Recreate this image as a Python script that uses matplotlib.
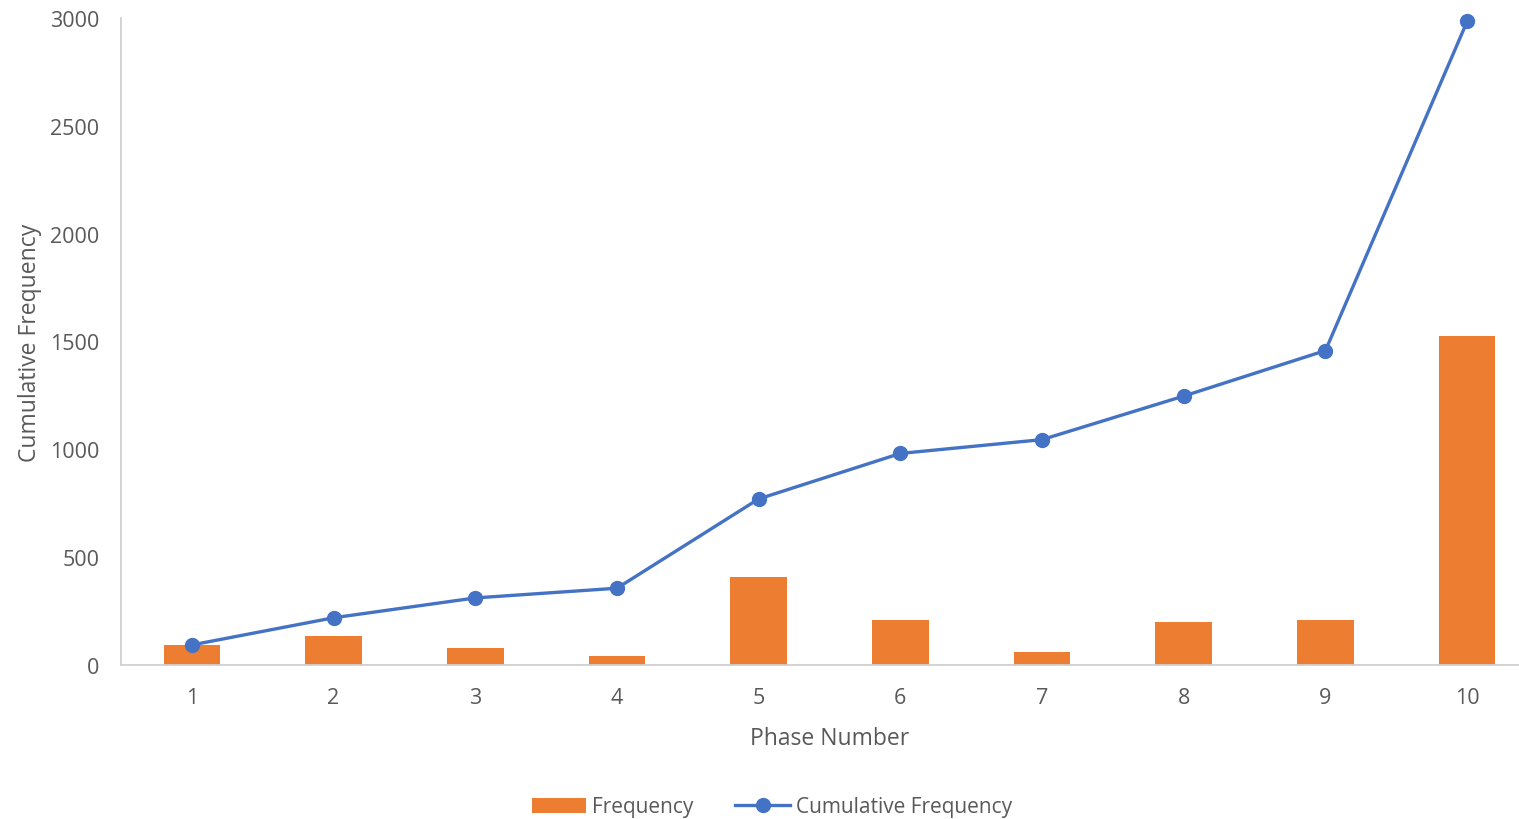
import matplotlib
matplotlib.use("Agg")
import matplotlib.pyplot as plt
from matplotlib.lines import Line2D
from matplotlib.patches import Patch

phases = [1, 2, 3, 4, 5, 6, 7, 8, 9, 10]
frequency = [93, 133, 77, 42, 410, 210, 62, 201, 209, 1525]
cumulative = [93, 219, 311, 356, 770, 981, 1045, 1247, 1458, 2984]
yticks = [0, 500, 1000, 1500, 2000, 2500, 3000]

plt.rcParams['font.family'] = ['Open Sans', 'DejaVu Sans']
TXT = '#595959'
ORANGE = '#ED7D31'
BLUE = '#4472C4'

fig = plt.figure(figsize=(15.19, 8.20), dpi=100)
W, H = 1519, 820
left, right, top, bottom = 121, 1538, 19, 666
ax = fig.add_axes([left / W, 1 - bottom / H, (right - left) / W, (bottom - top) / H])

ax.bar(phases, frequency, width=0.4, color=ORANGE, zorder=2)
ax.plot(phases, cumulative, color=BLUE, lw=2.4, marker='o', markersize=10,
        zorder=3, clip_on=False)

ax.set_xlim(0.5, 10.5)
ax.set_ylim(0, 3000)
ax.set_xticks(phases)
ax.set_xticklabels([str(p) for p in phases])
ax.set_yticks(yticks)
ax.set_yticklabels([str(v) for v in yticks])
ax.tick_params(axis='both', length=0, labelsize=15.5, colors=TXT)
ax.tick_params(axis='y', pad=15.5)
ax.tick_params(axis='x', pad=15.5)

for s in ['top', 'right']:
    ax.spines[s].set_visible(False)
for s in ['left', 'bottom']:
    ax.spines[s].set_color('#D0D0D0')
    ax.spines[s].set_linewidth(1.3)

ax.set_xlabel('Phase Number', fontsize=16.5, color=TXT, labelpad=13)
ax.set_ylabel('Cumulative Frequency', fontsize=16.5, color=TXT, labelpad=6)

handles = [Patch(facecolor=ORANGE, edgecolor='none', label='Frequency'),
           Line2D([0], [0], color=BLUE, lw=2.4, marker='o', markersize=10,
                  label='Cumulative Frequency')]
fig.legend(handles=handles, loc='center', bbox_to_anchor=(772 / W, 1 - 808 / H),
           ncol=2, frameon=False, fontsize=15, labelcolor=TXT,
           handlelength=2.6, handleheight=0.7, columnspacing=2.0, handletextpad=0.3)

fig.savefig('out.png', dpi=100)
